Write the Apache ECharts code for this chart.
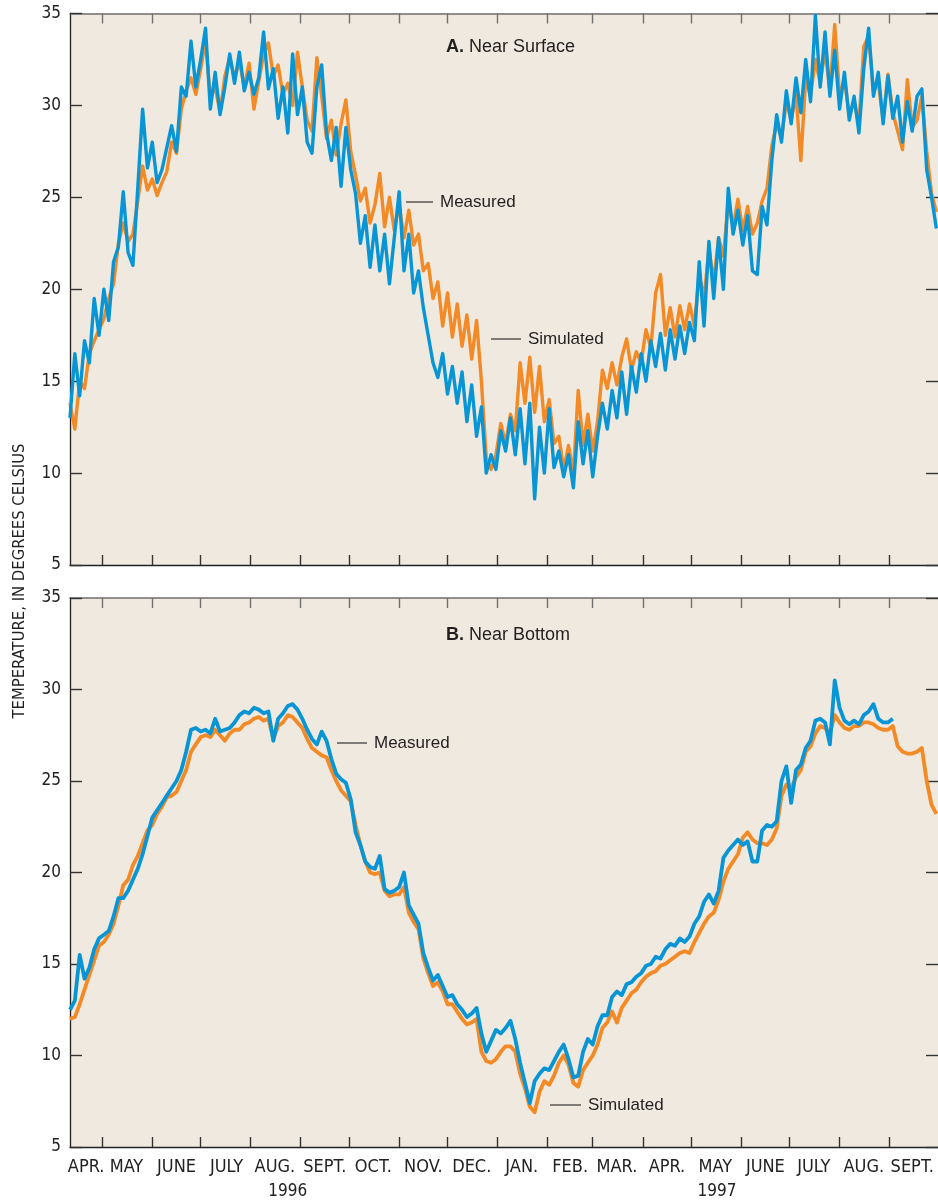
<!DOCTYPE html>
<html>
<head>
<meta charset="utf-8">
<script src="https://cdn.jsdelivr.net/npm/echarts@6/dist/echarts.min.js"></script>
<style>
html, body { margin: 0; padding: 0; background: #fff; }
#chart { width: 938px; height: 1200px; }
</style>
</head>
<body>
<div id="chart"></div>
<script>
// series sampled every 3 days starting 11 April 1996
var startDate = '1996-04-11';
var endDate = '1997-10-01';
var stepDays = 3;

var monthNames = ['JAN.', 'FEB.', 'MAR.', 'APR.', 'MAY', 'JUNE', 'JULY', 'AUG.', 'SEPT.', 'OCT.', 'NOV.', 'DEC.'];
var monthTicks = ['1996-05-01', '1996-06-01', '1996-07-01', '1996-08-01', '1996-09-01', '1996-10-01',
    '1996-11-01', '1996-12-01', '1997-01-01', '1997-02-01', '1997-03-01', '1997-04-01',
    '1997-05-01', '1997-06-01', '1997-07-01', '1997-08-01', '1997-09-01'];
var monthLabelDates = ['1996-04-21', '1996-05-16', '1996-06-16', '1996-07-17', '1996-08-16', '1996-09-16',
    '1996-10-16', '1996-11-16', '1996-12-16', '1997-01-16', '1997-02-15', '1997-03-16',
    '1997-04-16', '1997-05-16', '1997-06-16', '1997-07-16', '1997-08-16', '1997-09-15'];
var yearLabelDates = ['1996-08-24', '1997-05-17'];
var yearLabels = ['1996', '1997'];
var yTicks = [5, 35, 5]; // min, max, interval

// A. Near surface
var surfaceMeasured = [
    13.0, 16.5, 14.2, 17.2, 16.0, 19.5, 17.5, 20.0, 18.3, 21.5,
    22.3, 25.3, 22.0, 21.3, 25.5, 29.8, 26.6, 28.0, 25.8, 26.5,
    27.7, 28.9, 27.5, 31.0, 30.5, 33.5, 31.0, 32.5, 34.2, 29.8,
    31.8, 29.5, 31.0, 32.8, 31.2, 32.9, 30.8, 31.8, 30.6, 31.5,
    34.0, 30.9, 32.0, 29.3, 31.0, 28.5, 32.8, 29.5, 31.0, 28.0,
    27.4, 31.0, 32.2, 28.5, 27.0, 28.8, 25.6, 28.8, 26.5, 25.2,
    22.5, 24.0, 21.2, 23.5, 21.0, 23.0, 20.3, 22.8, 25.3, 21.0,
    23.0, 19.8, 21.0, 19.0, 17.5, 16.0, 15.2, 16.5, 14.3, 15.8,
    13.8, 15.5, 12.8, 14.8, 12.0, 13.6, 10.0, 11.0, 10.2, 12.3,
    11.2, 13.0, 11.0, 13.5, 10.5, 13.8, 8.6, 12.5, 10.0, 13.5,
    10.3, 11.2, 9.8, 11.0, 9.2, 12.8, 10.5, 12.3, 9.8, 12.0,
    13.8, 12.4, 14.5, 13.0, 15.5, 13.2, 15.8, 14.4, 16.5, 15.0,
    17.2, 15.8, 17.6, 15.6, 17.8, 16.2, 18.0, 16.5, 18.2, 17.2,
    21.5, 18.0, 22.6, 19.5, 22.8, 20.0, 25.5, 23.0, 24.3, 22.4,
    24.0, 21.0, 20.8, 24.5, 23.5, 27.0, 29.5, 28.0, 30.8, 29.0,
    31.5, 29.6, 32.5, 30.2, 34.9, 31.0, 34.0, 30.5, 33.0, 29.8,
    31.8, 29.2, 30.5, 28.5, 32.0, 34.2, 30.5, 31.8, 29.0, 31.6,
    29.3, 30.5, 28.0, 30.2, 28.6, 30.5, 30.9, 26.5, 25.0, 23.3
];
var surfaceSimulated = [
    13.8, 12.4, 15.0, 14.6, 16.5, 17.2, 17.8, 18.4, 19.5, 20.3,
    22.5, 23.6, 22.6, 23.0, 24.8, 26.7, 25.4, 26.0, 25.1, 25.8,
    26.4, 28.0, 27.4, 29.8, 30.8, 31.5, 30.6, 32.0, 33.5, 30.4,
    31.0, 29.6, 31.6, 32.6, 31.5, 32.4, 31.0, 32.3, 29.8, 31.3,
    32.8, 33.4, 31.6, 32.2, 30.6, 31.2, 30.0, 32.9, 31.0, 29.2,
    28.6, 32.6, 30.5, 28.2, 29.2, 27.3, 29.0, 30.3, 27.5, 26.2,
    24.8, 25.5, 23.6, 24.6, 26.3, 23.4, 25.0, 23.2, 24.6, 22.8,
    24.3, 22.4, 23.0, 21.0, 21.4, 19.5, 20.4, 18.0, 19.8, 17.4,
    19.2, 16.9, 18.6, 16.2, 18.3, 15.0, 10.8, 10.2, 11.0, 12.7,
    11.6, 13.2, 12.3, 16.0, 13.8, 16.3, 13.3, 15.8, 12.8, 14.0,
    11.6, 12.0, 10.2, 11.5, 10.0, 14.5, 11.5, 13.2, 11.2, 12.8,
    15.6, 14.6, 16.0, 14.8, 16.3, 17.3, 15.6, 16.6, 16.0, 17.8,
    16.8, 19.8, 20.8, 17.5, 19.0, 17.4, 19.1, 17.8, 19.2, 18.0,
    20.8, 19.5, 22.2, 20.4, 22.8, 21.8, 24.8, 23.4, 24.9, 23.2,
    24.5, 23.0, 23.6, 24.8, 25.5, 27.8, 29.0, 28.2, 30.2, 29.2,
    30.6, 27.0, 31.5, 30.5, 32.5, 31.2, 33.0, 30.8, 34.4, 30.5,
    31.4, 29.5, 30.2, 29.0, 33.2, 33.8, 30.8, 31.2, 29.2, 31.7,
    29.6, 28.6, 27.6, 31.4, 28.8, 29.2, 30.5, 27.5, 25.2, 24.2
];

// B. Near bottom (measured record stops early in September 1997)
var bottomMeasured = [
    12.5, 13.0, 15.5, 14.2, 14.8, 15.8, 16.4, 16.6, 16.8, 17.6,
    18.6, 18.6, 19.0, 19.6, 20.2, 21.0, 22.0, 23.0, 23.4, 23.8,
    24.2, 24.6, 25.0, 25.6, 26.6, 27.8, 27.9, 27.7, 27.8, 27.6,
    28.4, 27.7, 27.8, 27.9, 28.2, 28.6, 28.8, 28.7, 29.0, 28.9,
    28.7, 28.8, 27.2, 28.4, 28.7, 29.1, 29.2, 28.9, 28.4, 27.8,
    27.3, 27.0, 27.7, 27.2, 26.2, 25.4, 25.1, 24.9, 24.0, 22.2,
    21.5, 20.6, 20.3, 20.2, 20.9, 19.1, 18.9, 19.0, 19.2, 20.0,
    18.2, 17.7, 17.2, 15.6, 14.8, 14.1, 14.4, 13.8, 13.2, 13.3,
    12.8, 12.5, 12.1, 12.3, 12.6, 11.2, 10.2, 10.8, 11.4, 11.2,
    11.5, 11.9, 10.9, 9.6, 8.5, 7.4, 8.6, 9.0, 9.3, 9.2,
    9.7, 10.2, 10.6, 9.8, 8.8, 8.9, 10.2, 10.9, 10.6, 11.6,
    12.2, 12.2, 13.2, 13.5, 13.3, 13.9, 14.0, 14.3, 14.5, 14.9,
    15.0, 15.4, 15.3, 15.8, 16.1, 16.0, 16.4, 16.2, 16.5, 17.2,
    17.6, 18.4, 18.8, 18.3, 19.0, 20.8, 21.2, 21.5, 21.8, 21.5,
    21.7, 20.6, 20.6, 22.3, 22.6, 22.5, 22.8, 25.0, 25.8, 23.8,
    25.6, 25.9, 26.8, 27.2, 28.3, 28.4, 28.2, 27.0, 30.5, 29.0,
    28.3, 28.1, 28.3, 28.1, 28.6, 28.8, 29.2, 28.4, 28.2, 28.2,
    28.4
];
var bottomSimulated = [
    12.0, 12.1, 12.8, 13.6, 14.4, 15.2, 16.0, 16.2, 16.6, 17.2,
    18.2, 19.3, 19.6, 20.4, 20.9, 21.6, 22.3, 22.6, 23.2, 23.6,
    24.1, 24.2, 24.4, 25.0, 25.6, 26.6, 27.0, 27.4, 27.5, 27.4,
    27.8, 27.5, 27.2, 27.6, 27.8, 27.8, 28.1, 28.2, 28.4, 28.5,
    28.3, 28.4, 27.3, 28.0, 28.2, 28.6, 28.5, 28.2, 27.9, 27.3,
    26.8, 26.6, 26.4, 26.3, 25.6, 25.0, 24.5, 24.2, 23.9, 22.6,
    21.5, 20.6, 20.0, 19.9, 20.0, 19.0, 18.7, 18.8, 18.8, 19.2,
    17.8, 17.3, 16.9, 15.3, 14.5, 13.8, 14.0, 13.5, 12.8, 12.8,
    12.4, 12.0, 11.7, 11.8, 12.0, 10.2, 9.7, 9.6, 9.8, 10.2,
    10.5, 10.5, 10.2, 9.0, 8.2, 7.2, 6.9, 8.0, 8.6, 8.4,
    8.9, 9.6, 10.0, 9.5, 8.5, 8.3, 9.2, 9.6, 10.0, 10.6,
    11.5, 11.8, 12.4, 11.8, 12.6, 13.0, 13.4, 13.6, 14.0, 14.3,
    14.5, 14.6, 14.9, 15.0, 15.2, 15.4, 15.6, 15.7, 15.6, 16.2,
    16.7, 17.2, 17.6, 17.8, 18.5, 19.5, 20.2, 20.6, 21.0, 21.9,
    22.2, 21.8, 21.6, 21.6, 21.5, 21.8, 22.4, 24.2, 24.8, 24.6,
    25.2, 25.6, 26.6, 26.9, 27.6, 28.0, 27.9, 27.6, 28.6, 28.2,
    27.9, 27.8, 28.0, 28.0, 28.2, 28.2, 28.1, 27.9, 27.8, 27.8,
    28.0, 26.9, 26.6, 26.5, 26.5, 26.6, 26.8, 25.0, 23.7, 23.2
];

var BLUE = '#0795d6';
var ORANGE = '#f38a26';
var NARROW = "'Liberation Sans Narrow', 'DejaVu Sans Condensed', sans-serif";
var SANS = "'Liberation Sans', Arial, sans-serif";
var DAY = 86400000;

function toTime(s) {
    return Date.parse(s + 'T00:00:00Z');
}

function toPairs(values) {
    var t0 = toTime(startDate);
    return values.map(function (v, i) {
        return [t0 + i * stepDays * DAY, v];
    });
}

var xMin = toTime(startDate);
var xMax = toTime(endDate);
var tickTimes = monthTicks.map(toTime);

function timeAxis(grid, position, opts) {
    var axis = {
        type: 'value',
        gridIndex: grid,
        position: position,
        min: xMin,
        max: xMax,
        splitLine: { show: false },
        axisLine: { show: true, onZero: false, lineStyle: { color: position === 'top' ? '#6f6f6f' : '#222', width: position === 'top' ? 1.6 : 1.3 } },
        axisTick: { show: true, inside: true, length: 10, customValues: tickTimes, lineStyle: { color: position === 'top' ? '#6f6f6f' : '#333', width: 1.4 } },
        axisLabel: { show: false }
    };
    return Object.assign(axis, opts || {});
}

function tempAxis(grid, position) {
    return {
        type: 'value',
        gridIndex: grid,
        position: position,
        min: yTicks[0],
        max: yTicks[1],
        interval: yTicks[2],
        splitLine: { show: false },
        axisLine: { show: position === 'left', lineStyle: { color: '#222', width: 1.3 } },
        axisTick: { show: true, inside: true, length: 12, lineStyle: { color: '#333', width: 1.4 } },
        axisLabel: {
            show: position === 'left',
            margin: 9,
            color: '#222',
            fontFamily: NARROW,
            fontSize: 17
        }
    };
}

function lineSeries(name, values, xi, yi, color, width) {
    return {
        name: name,
        type: 'line',
        xAxisIndex: xi,
        yAxisIndex: yi,
        data: toPairs(values),
        showSymbol: false,
        symbol: 'none',
        sampling: null,
        lineStyle: { color: color, width: width, join: 'round' },
        emphasis: { disabled: true },
        silent: true
    };
}

function note(text, lineX1, lineX2, y) {
    return [
        { type: 'line', shape: { x1: lineX1, y1: y, x2: lineX2, y2: y }, style: { stroke: '#333', lineWidth: 1.2 } },
        { type: 'text', x: lineX2 + 7, y: y, style: { text: text, font: '17px ' + SANS, fill: '#231f20', align: 'left', verticalAlign: 'middle' } }
    ];
}

function panelTitle(letter, text, x, y) {
    return {
        type: 'text', x: x, y: y,
        style: {
            text: '{b|' + letter + '} ' + text,
            font: '18px ' + SANS,
            fill: '#231f20',
            verticalAlign: 'middle',
            rich: { b: { fontWeight: 'bold', fontSize: 18, fontFamily: SANS, fill: '#231f20' } }
        }
    };
}

var chart = echarts.init(document.getElementById('chart'), null, { renderer: 'canvas' });

var option = {
    animation: false,
    backgroundColor: '#ffffff',
    grid: [
        { left: 70, top: 13.5, width: 868, height: 551.5, show: true, backgroundColor: '#efe9df', borderWidth: 0, containLabel: false, outerBoundsMode: 'none' },
        { left: 70, top: 598, width: 868, height: 549, show: true, backgroundColor: '#efe9df', borderWidth: 0, containLabel: false, outerBoundsMode: 'none' }
    ],
    xAxis: [
        timeAxis(0, 'bottom'),
        timeAxis(0, 'top'),
        timeAxis(1, 'bottom', {
            axisLabel: {
                show: true,
                customValues: monthLabelDates.map(toTime),
                margin: 11,
                color: '#222',
                fontFamily: NARROW,
                fontSize: 18,
                formatter: function (v) { return monthNames[new Date(v).getUTCMonth()]; }
            }
        }),
        timeAxis(1, 'top'),
        timeAxis(1, 'bottom', {
            axisLine: { show: false },
            axisTick: { show: false },
            axisLabel: {
                show: true,
                customValues: yearLabelDates.map(toTime),
                margin: 36,
                color: '#222',
                fontFamily: NARROW,
                fontSize: 17,
                formatter: function (v) { return yearLabels[yearLabelDates.map(toTime).indexOf(v)]; }
            }
        })
    ],
    yAxis: [
        tempAxis(0, 'left'),
        tempAxis(0, 'right'),
        tempAxis(1, 'left'),
        tempAxis(1, 'right')
    ],
    series: [
        lineSeries('Simulated', surfaceSimulated, 0, 0, ORANGE, 3.4),
        lineSeries('Measured', surfaceMeasured, 0, 0, BLUE, 3.4),
        lineSeries('Simulated', bottomSimulated, 2, 2, ORANGE, 3.8),
        lineSeries('Measured', bottomMeasured, 2, 2, BLUE, 3.8)
    ],
    graphic: [
        panelTitle('A.', 'Near Surface', 446, 47),
        panelTitle('B.', 'Near Bottom', 446, 635),
        {
            type: 'text', x: 20, y: 581, rotation: Math.PI / 2,
            style: { text: 'TEMPERATURE, IN DEGREES CELSIUS', font: '16.5px ' + NARROW, fill: '#231f20', align: 'center', verticalAlign: 'middle' }
        }
    ]
        .concat(note('Measured', 406, 433, 202))
        .concat(note('Simulated', 491, 521, 339))
        .concat(note('Measured', 337, 367, 743))
        .concat(note('Simulated', 550, 581, 1105))
};

chart.setOption(option);
</script>
</body>
</html>
